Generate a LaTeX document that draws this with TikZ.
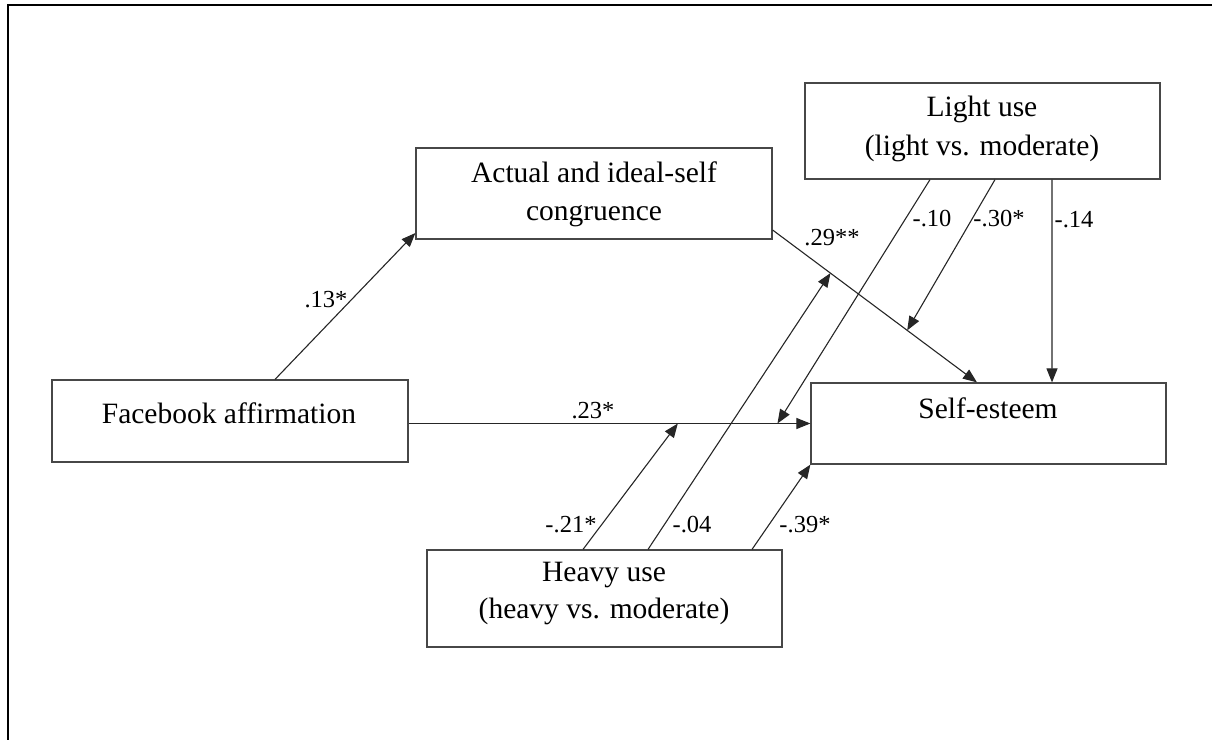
\documentclass[tikz,border=0pt]{standalone}
\usepackage{fontspec}
\setmainfont{Liberation Serif}
\usetikzlibrary{arrows.meta,calc}
\begin{document}
\begin{tikzpicture}[x=1bp,y=-1bp,
  box/.style={draw=black!72,line width=1.2bp,fill=white,inner sep=0pt},
  boxtext/.style={anchor=base,inner sep=0pt,font=\fontsize{29.5bp}{38bp}\selectfont},
  coef/.style={inner sep=0pt,font=\fontsize{24.5bp}{30bp}\selectfont},
  arr/.style={draw=black!85,line width=1.1bp,-{Triangle[length=14bp,width=11bp]}}]
\useasboundingbox (0,0) rectangle (1212,740);
\draw[line width=2bp] (7.5,745) -- (7.5,5.5) -- (1215,5.5);
% boxes
\node[box,minimum width=356bp,minimum height=82bp] (fb) at (230,421) {};
\node[box,minimum width=356bp,minimum height=91bp] (act) at (594,193.5) {};
\node[box,minimum width=355bp,minimum height=96bp] (lt) at (982.5,131) {};
\node[box,minimum width=355bp,minimum height=81bp] (se) at (988.5,423.5) {};
\node[box,minimum width=355bp,minimum height=97bp] (hv) at (604.5,598.5) {};
% texts
\node[boxtext] (fbt) at (229,423) {Facebook affirmation};
\node[boxtext] (act1) at (594,182) {Actual and ideal-self};
\node[boxtext] (act2) at (594,220) {congruence};
\node[boxtext] (lt1) at (982,117) {Light use};
\node[boxtext] (lt2) at (982,155) {(light vs. moderate)};
\node[boxtext] (se1) at (988,418) {Self-esteem};
\node[boxtext] (hv1) at (604,581) {Heavy use};
\node[boxtext] (hv2) at (604,618) {(heavy vs. moderate)};
% helper coordinates
\coordinate (a2s) at ([yshift=-36.5bp]act.east);
\coordinate (a2e) at ([xshift=-11.5bp]se.north);
\coordinate (f2s) at (fb.east |- se.west);
\coordinate (p30) at ($(a2s)!0.6585!(a2e)$);
\coordinate (p04) at ($(a2s)!0.283!(a2e)$);
\coordinate (p10) at ($(f2s)!0.918!(se.west)$);
\coordinate (p21) at ($(f2s)!0.67!(se.west)$);
% connectors
\draw[arr] ([xshift=45bp]fb.north) -- ([yshift=-39.5bp]act.west);
\draw[arr] (a2s) -- (a2e);
\draw[arr] (f2s) -- (se.west);
\draw[arr] ([xshift=69.5bp]lt.south) -- ([xshift=63.5bp]se.north);
\draw[arr] ([xshift=12.5bp]lt.south) -- (p30);
\draw[arr] ([xshift=-52.5bp]lt.south) -- (p10);
\draw[arr] ([xshift=-21.5bp]hv.north) -- (p21);
\draw[arr] ([xshift=43.5bp]hv.north) -- (p04);
\draw[arr] ([xshift=147.5bp]hv.north) -- (se.south west);
% coefficients
\node[coef] (c13) at (326,300) {.13*};
\node[coef] (c29) at (832,238) {.29**};
\node[coef] (c10) at (932,219) {-.10};
\node[coef] (c30) at (999,219) {-.30*};
\node[coef] (c14) at (1074,220) {-.14};
\node[coef] (c23) at (593,411) {.23*};
\node[coef] (c21) at (571,525) {-.21*};
\node[coef] (c04) at (692,525) {-.04};
\node[coef] (c39) at (805,525) {-.39*};
\end{tikzpicture}
\end{document}
